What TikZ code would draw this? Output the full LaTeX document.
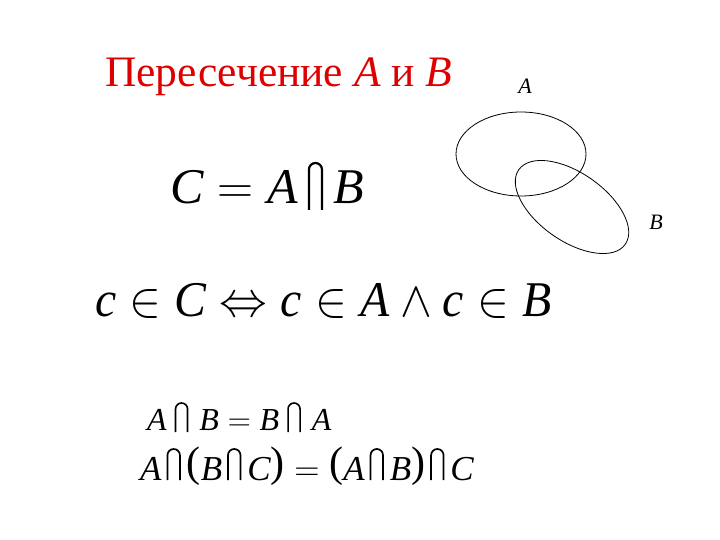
\RequirePackage{fix-cm}
\documentclass[tikz,border=0pt]{standalone}
\usepackage{exscale}
\usepackage{graphicx}
\usepackage{fontspec}
\setmainfont{Liberation Serif}
\DeclareSymbolFont{letters}{TU}{\rmdefault}{m}{it}
\definecolor{titlered}{RGB}{222,0,0}
% tall intersection sign: width, bottom, top, stroke
\newcommand{\capsym}[4]{\tikz[baseline=0pt, x=1pt, y=1pt, line width=#4]
  \draw (0,#2) -- (0,{#3-#1/2}) arc[start angle=180, end angle=0, radius=#1/2] -- (#1,#2);}
\newcommand{\capL}{\mathord{\hbox{\hspace{10pt}\capsym{13}{-6}{41}{2.2pt}\hspace{10pt}}}}
\newcommand{\capM}{\mathord{\hbox{\hspace{8pt}\capsym{12}{-2}{27}{1.6pt}\hspace{11pt}}}}
\newcommand{\capS}{\mathord{\hbox{\hspace{5pt}\capsym{12.5}{0}{31}{1.7pt}\hspace{6pt}}}}
\newcommand{\lpar}{\mathopen{\raisebox{.1em}{\scalebox{1.2}[1.22]{(}}}}
\newcommand{\rpar}{\mathclose{\raisebox{.1em}{\scalebox{1.2}[1.22]{)}}}}
\tikzset{
  formula/.style={anchor=base west, inner sep=0pt},
  setlabel/.style={inner sep=0pt, font=\fontsize{22}{26}\selectfont},
  setline/.style={line width=0.8pt}
}
\begin{document}
\begin{tikzpicture}[x=1pt,y=-1pt]
\useasboundingbox (0,0) rectangle (720,540);
\node[formula, text=titlered, font=\fontsize{43.5}{50}\selectfont] (title) at (105,87) {Пересечение \textit{A} и \textit{B}};
% the two sets
\draw[setline] (521,154) ellipse [x radius=65, y radius=42];
\draw[setline, rotate around={-35:(572,207)}] (572,207) ellipse [x radius=65, y radius=34];
\node[setlabel] (labA) at (525,86) {\textit{A}};
\node[setlabel] (labB) at (656,222) {\textit{B}};
% formulas
\node[formula, font=\fontsize{50}{60}\selectfont] (defC) at (170,204) {$C = A \capL B$};
\node[formula, font=\fontsize{50}{60}\selectfont] (member) at (95,316) {\scalebox{0.955}[1]{$c \in C \Leftrightarrow c \in A \wedge c \in B$}};
\node[formula, font=\fontsize{32}{38}\selectfont] (commut) at (147,430) {$A \capM B = B \capM A$};
\node[formula, font=\fontsize{35}{42}\selectfont] (assoc) at (140,480) {$A \capS \lpar B \capS C \rpar = \lpar A \capS B \rpar \capS C$};
\end{tikzpicture}
\end{document}
